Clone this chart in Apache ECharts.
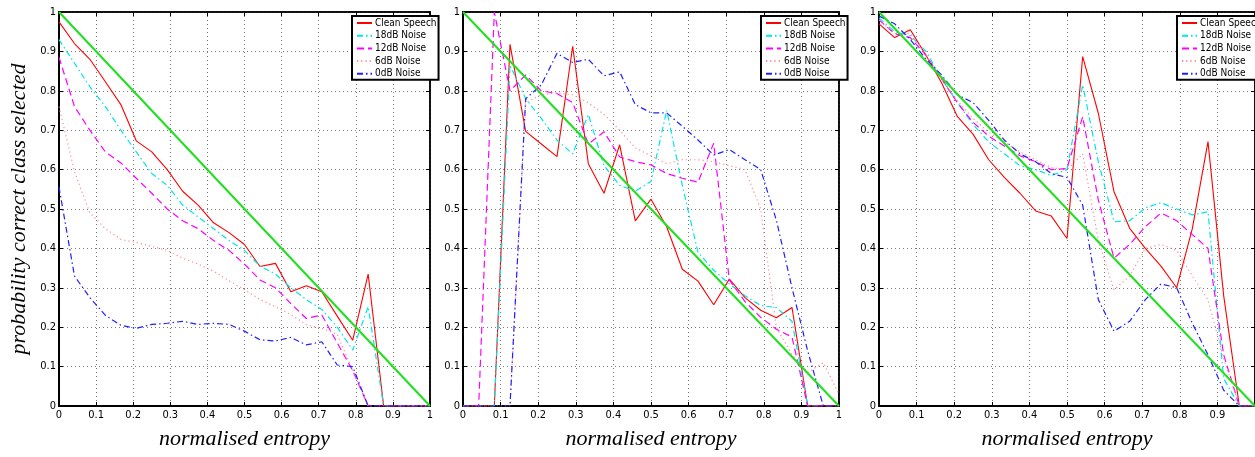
<!DOCTYPE html>
<html>
<head>
<meta charset="utf-8">
<script src="https://cdn.jsdelivr.net/npm/echarts@6/dist/echarts.min.js"></script>
<style>
html,body{margin:0;padding:0;background:#fff;}
#chart{width:1255px;height:457px;}
</style>
</head>
<body>
<div id="chart"></div>
<script>
// x positions of the histogram bins (normalised entropy)
const xBins = [0, 0.0417, 0.0833, 0.125, 0.1667, 0.2083, 0.25, 0.2917, 0.3333, 0.375, 0.4167, 0.4583, 0.5, 0.5417, 0.5833, 0.625, 0.6667, 0.7083, 0.75, 0.7917, 0.8333, 0.875, 0.9167, 0.9583, 1];

const seriesNames = ['Clean Speech', '18dB Noise', '12dB Noise', '6dB Noise', '0dB Noise'];

// Panel 1
const p1Clean = [0.975, 0.92, 0.88, 0.823, 0.765, 0.673, 0.645, 0.60, 0.545, 0.51, 0.465, 0.44, 0.41, 0.354, 0.362, 0.29, 0.305, 0.29, 0.228, 0.167, 0.335, 0, 0, 0, 0];
const p1N18 = [0.93, 0.87, 0.81, 0.76, 0.70, 0.645, 0.59, 0.56, 0.51, 0.48, 0.45, 0.42, 0.395, 0.355, 0.335, 0.30, 0.27, 0.245, 0.20, 0.142, 0.252, 0, 0, 0, 0];
const p1N12 = [0.885, 0.76, 0.70, 0.645, 0.617, 0.578, 0.54, 0.50, 0.47, 0.45, 0.42, 0.395, 0.36, 0.32, 0.30, 0.26, 0.222, 0.231, 0.16, 0.09, 0, 0, 0, 0, 0];
const p1N6 = [0.76, 0.595, 0.49, 0.45, 0.423, 0.415, 0.405, 0.395, 0.375, 0.36, 0.342, 0.318, 0.295, 0.27, 0.252, 0.232, 0.206, 0.197, 0.182, 0.09, 0, 0, 0, 0, 0];
const p1N0 = [0.556, 0.33, 0.275, 0.23, 0.205, 0.197, 0.207, 0.21, 0.215, 0.207, 0.21, 0.207, 0.19, 0.168, 0.165, 0.174, 0.155, 0.163, 0.104, 0.1, 0, 0, 0, 0, 0];

// Panel 2
const p2Clean = [0, 0, 0, 0.918, 0.697, 0.665, 0.633, 0.913, 0.615, 0.54, 0.663, 0.47, 0.525, 0.455, 0.347, 0.317, 0.257, 0.322, 0.275, 0.243, 0.224, 0.25, 0, 0, 0];
const p2N18 = [0, 0, 0, 0.865, 0.78, 0.73, 0.675, 0.64, 0.74, 0.61, 0.56, 0.545, 0.57, 0.75, 0.56, 0.39, 0.345, 0.31, 0.28, 0.255, 0.25, 0.215, 0, 0, 0];
const p2N12 = [0, 0, 1.0, 0.80, 0.84, 0.80, 0.793, 0.77, 0.665, 0.696, 0.632, 0.62, 0.612, 0.59, 0.578, 0.568, 0.667, 0.32, 0.265, 0.225, 0.195, 0.175, 0, 0, 0];
const p2N6 = [0, 0, 0, 0, 0.77, 0.79, 0.795, 0.79, 0.77, 0.74, 0.70, 0.655, 0.635, 0.615, 0.625, 0.625, 0.62, 0.61, 0.60, 0.50, 0.20, 0.13, 0.085, 0.11, 0.03];
const p2N0 = [0, 0, 0, 0, 0.78, 0.815, 0.895, 0.872, 0.88, 0.838, 0.848, 0.765, 0.744, 0.744, 0.71, 0.675, 0.637, 0.651, 0.625, 0.60, 0.472, 0.30, 0.14, 0, 0];

// Panel 3
const p3Clean = [0.97, 0.935, 0.955, 0.89, 0.82, 0.735, 0.69, 0.625, 0.58, 0.54, 0.495, 0.482, 0.425, 0.887, 0.743, 0.544, 0.451, 0.40, 0.355, 0.30, 0.45, 0.671, 0.28, 0, 0];
const p3N18 = [0.985, 0.95, 0.94, 0.90, 0.83, 0.77, 0.715, 0.67, 0.64, 0.61, 0.60, 0.585, 0.60, 0.815, 0.62, 0.468, 0.47, 0.503, 0.516, 0.50, 0.485, 0.493, 0.07, 0, 0];
const p3N12 = [0.98, 0.945, 0.935, 0.89, 0.83, 0.77, 0.72, 0.685, 0.66, 0.635, 0.62, 0.60, 0.603, 0.734, 0.523, 0.375, 0.41, 0.455, 0.49, 0.47, 0.435, 0.40, 0.13, 0, 0];
const p3N6 = [0.98, 0.945, 0.945, 0.89, 0.83, 0.775, 0.73, 0.695, 0.67, 0.645, 0.625, 0.605, 0.60, 0.64, 0.42, 0.295, 0.33, 0.40, 0.41, 0.395, 0.33, 0.27, 0.12, 0, 0];
const p3N0 = [0.99, 0.97, 0.93, 0.88, 0.84, 0.79, 0.77, 0.725, 0.675, 0.64, 0.62, 0.59, 0.58, 0.51, 0.27, 0.19, 0.215, 0.27, 0.31, 0.30, 0.21, 0.13, 0.04, 0, 0];

// reference diagonal
const diagX = [0, 1];
const diagY = [1, 0];

// tick values
const tickMin = 0, tickMax = 1, tickStep = 0.1;

const panels = [
  [p1Clean, p1N18, p1N12, p1N6, p1N0],
  [p2Clean, p2N18, p2N12, p2N6, p2N0],
  [p3Clean, p3N18, p3N12, p3N6, p3N0]
];

const styles = [
  {color: '#ff0000', type: 'solid', width: 1.1},
  {color: '#00e5e5', type: [6, 3, 1.5, 3], width: 1.2},
  {color: '#ff00ff', type: [7, 4], width: 1.2},
  {color: '#ff8c8c', type: [1.2, 3], width: 1.2},
  {color: '#2020ff', type: [6, 3, 1.5, 3], width: 1.2}
];

const gridsPos = [
  {left: 59, top: 12, width: 371, height: 394},
  {left: 463, top: 12, width: 376, height: 394},
  {left: 879, top: 12, width: 377, height: 394}
];
const legendPos = [{left: 352, top: 16}, {left: 761, top: 16}, {left: 1177, top: 16}];

const labelFont = "'Liberation Sans Narrow', 'DejaVu Sans Condensed', 'Liberation Sans', sans-serif";
const serifFont = "'Liberation Serif', 'DejaVu Serif', serif";
const fmt = v => String(+v.toFixed(1));

const grid = [], xAxis = [], yAxis = [], series = [], legend = [];

gridsPos.forEach((g, p) => {
  grid.push(Object.assign({show: true, borderColor: '#000', borderWidth: 1.5, backgroundColor: '#fff', containLabel: false}, g));
  const common = {gridIndex: p, type: 'value', min: tickMin, max: tickMax, interval: tickStep};
  xAxis.push(Object.assign({}, common, {
    position: 'bottom',
    axisLine: {show: true, onZero: false, lineStyle: {color: '#000', width: 2}},
    axisTick: {show: true, inside: true, length: 4, lineStyle: {color: '#000', width: 1}},
    axisLabel: {show: true, color: '#000', fontSize: 11, fontFamily: labelFont, margin: 4, formatter: fmt, showMaxLabel: p !== 2, showMinLabel: true},
    splitLine: {show: true, lineStyle: {color: '#7a7a7a', type: [1, 3], width: 1}},
    name: 'normalised entropy', nameLocation: 'middle', nameGap: 22,
    nameTextStyle: {fontFamily: serifFont, fontStyle: 'italic', fontSize: 22, color: '#000'}
  }));
  xAxis.push(Object.assign({}, common, {
    position: 'top',
    axisLine: {show: true, onZero: false, lineStyle: {color: '#000', width: 1.5}},
    axisTick: {show: true, inside: true, length: 4, lineStyle: {color: '#000', width: 1}},
    axisLabel: {show: false}, splitLine: {show: false}
  }));
  yAxis.push(Object.assign({}, common, {
    position: 'left',
    axisLine: {show: true, onZero: false, lineStyle: {color: '#000', width: 2}},
    axisTick: {show: true, inside: true, length: 4, lineStyle: {color: '#000', width: 1}},
    axisLabel: {show: true, color: '#000', fontSize: 11, fontFamily: labelFont, margin: 3, formatter: fmt},
    splitLine: {show: true, lineStyle: {color: '#7a7a7a', type: [1, 3], width: 1}},
    name: p === 0 ? 'probability correct class selected' : '',
    nameLocation: 'middle', nameGap: 29,
    nameTextStyle: {fontFamily: serifFont, fontStyle: 'italic', fontSize: 22, color: '#000'}
  }));
  yAxis.push(Object.assign({}, common, {
    position: 'right',
    axisLine: {show: true, onZero: false, lineStyle: {color: '#000', width: 1.5}},
    axisTick: {show: true, inside: true, length: 4, lineStyle: {color: '#000', width: 1}},
    axisLabel: {show: false}, splitLine: {show: false}
  }));

  panels[p].forEach((vals, k) => {
    series.push({
      type: 'line', name: seriesNames[k],
      xAxisIndex: p * 2, yAxisIndex: p * 2,
      data: xBins.map((x, i) => [x, vals[i]]),
      symbol: 'none', showSymbol: false, smooth: false,
      lineStyle: {color: styles[k].color, type: styles[k].type, width: styles[k].width},
      itemStyle: {color: styles[k].color},
      z: 3 + k
    });
  });
  series.push({
    type: 'line', name: 'diag',
    xAxisIndex: p * 2, yAxisIndex: p * 2,
    data: diagX.map((x, i) => [x, diagY[i]]),
    symbol: 'none',
    lineStyle: {color: '#1ee01e', width: 2},
    z: 10
  });

  legend.push({
    data: seriesNames,
    left: legendPos[p].left, top: legendPos[p].top,
    orient: 'vertical',
    backgroundColor: '#fff', borderColor: '#000', borderWidth: 2, borderRadius: 0,
    padding: [2, 2, 1, 4],
    itemWidth: 15, itemHeight: 10, itemGap: 2.7,
    selectedMode: false,
    itemStyle: {color: 'rgba(0,0,0,0)', borderColor: 'rgba(0,0,0,0)', borderWidth: 0},
    textStyle: {fontSize: 10, fontFamily: labelFont, color: '#000', padding: [0, 0, 0, -2]},
    z: 20
  });
});

const chart = echarts.init(document.getElementById('chart'), null, {renderer: 'canvas'});
chart.setOption({
  animation: false,
  backgroundColor: '#fff',
  grid, xAxis, yAxis, series, legend
});
</script>
</body>
</html>
